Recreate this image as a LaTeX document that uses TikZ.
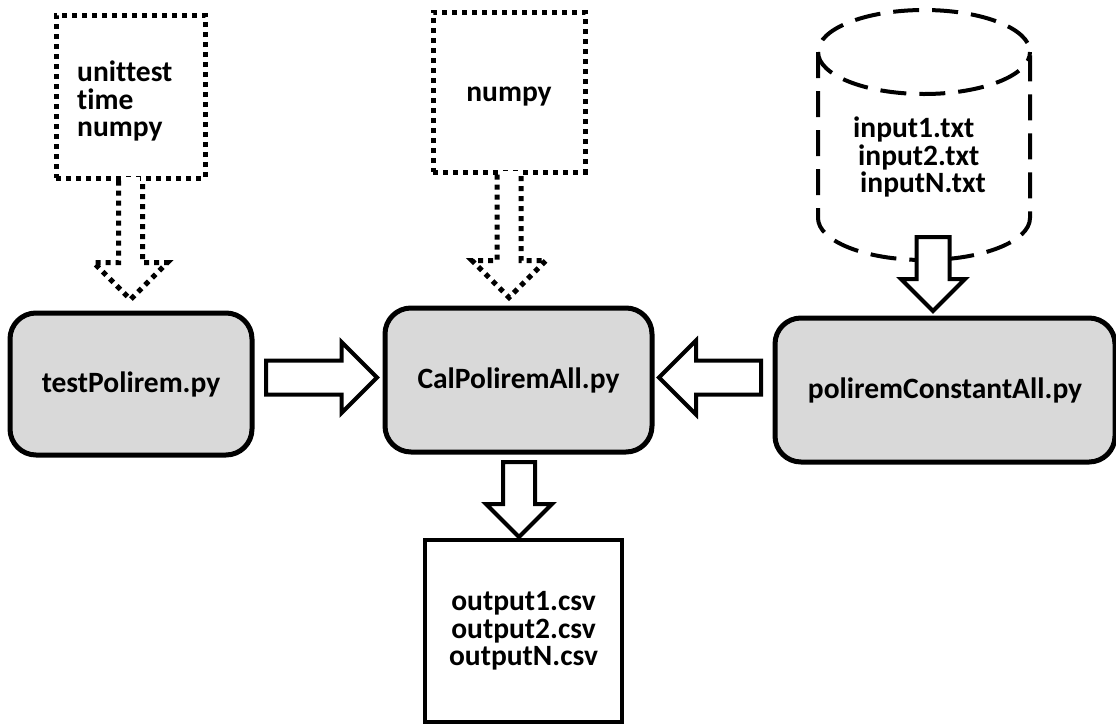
\documentclass[tikz,border=0pt]{standalone}
\usepackage{fontspec}
\setmainfont{Carlito}[Ligatures=NoCommon]
\usetikzlibrary{shapes.arrows,calc}
\definecolor{boxgray}{RGB}{217,217,217}
\tikzset{
  txt/.style={font=\fontsize{29.5}{27.5}\selectfont\bfseries, inner sep=0pt},
  procbox/.style={draw, line width=5pt, fill=boxgray, rounded corners=26pt, txt, align=center},
  dotbox/.style={draw, line width=5pt, dash pattern=on 5pt off 5pt},
  dotline/.style={line width=5pt, dash pattern=on 5pt off 5pt},
  outbox/.style={draw, line width=4pt, txt, align=center},
  blockarrow/.style={single arrow, draw, fill=white, line width=4pt, inner sep=0pt,
    single arrow tip angle=90, single arrow head indent=0pt, anchor=tail},
  cylline/.style={line width=4pt, dash pattern=on 26pt off 13pt},
}
\begin{document}
\begin{tikzpicture}[x=1pt,y=-1pt]
\useasboundingbox (0,0) rectangle (1116,724);
% process boxes
\node[procbox, minimum width=242pt, minimum height=142pt] (tp) at (131,384) {testPolirem.py};
\node[procbox, minimum width=267pt, minimum height=144pt] (cal) at (518.5,380) {CalPoliremAll.py};
\node[procbox, minimum width=340pt, minimum height=144pt] (pc) at (945,390) {poliremConstantAll.py};
% output box
\node[outbox, minimum width=197pt, minimum height=182pt] (out) at (523.5,631) {output1.csv\\output2.csv\\outputN.csv};
% dependency boxes
\node[dotbox, minimum width=149pt, minimum height=163pt] (dep1) at (130.5,96.5) {};
\node[txt, anchor=west, align=left] (dep1t) at (77,101) {unittest\\time\\numpy};
\node[dotbox, minimum width=152pt, minimum height=160pt] (dep2) at (509,92) {};
\node[txt] (dep2t) at (509,97) {numpy};
% dotted arrows
\fill[white] ($(dep1.south)+(-9,-4)$) rectangle ($(dep1.south)+(9,4)$);
\draw[dotline] ($(dep1.south)+(-12,0)$) -- ++(0,82) -- ++(-25,0) -- ++(37,37) -- ++(37,-37) -- ++(-25,0) -- ++(0,-82);
\fill[white] ($(dep2.south)+(-9,-4)$) rectangle ($(dep2.south)+(9,4)$);
\draw[dotline] ($(dep2.south)+(-12,0)$) -- ++(0,86) -- ++(-25,0) -- ++(37,37) -- ++(37,-37) -- ++(-25,0) -- ++(0,-86);
% cylinder
\draw[cylline] (818,52) -- (818,218) arc[start angle=180, end angle=360, x radius=106pt, y radius=42pt] -- (1030,52) arc[start angle=0, end angle=180, x radius=106pt, y radius=42pt];
\draw[cylline] (818,52) arc[start angle=180, end angle=360, x radius=106pt, y radius=42pt];
\node[txt, anchor=west, align=left] (cylt) at (853,157) {input1.txt\\\hspace*{5pt}input2.txt\\\hspace*{7pt}inputN.txt};
% block arrows
\node[blockarrow, inner ysep=14.5pt, single arrow head extend=15.5pt, minimum height=74pt, rotate=-90] (a3) at (933,235) {};
\node[blockarrow, inner ysep=15pt, single arrow head extend=18.5pt, minimum height=111pt] (a4) at (264,377.5) {};
\node[blockarrow, inner ysep=15pt, single arrow head extend=20pt, minimum height=102pt, rotate=180] (a5) at (763,377.5) {};
\node[blockarrow, inner ysep=14pt, single arrow head extend=17pt, minimum height=75pt, rotate=-90] (a6) at (519,460) {};
\end{tikzpicture}
\end{document}
